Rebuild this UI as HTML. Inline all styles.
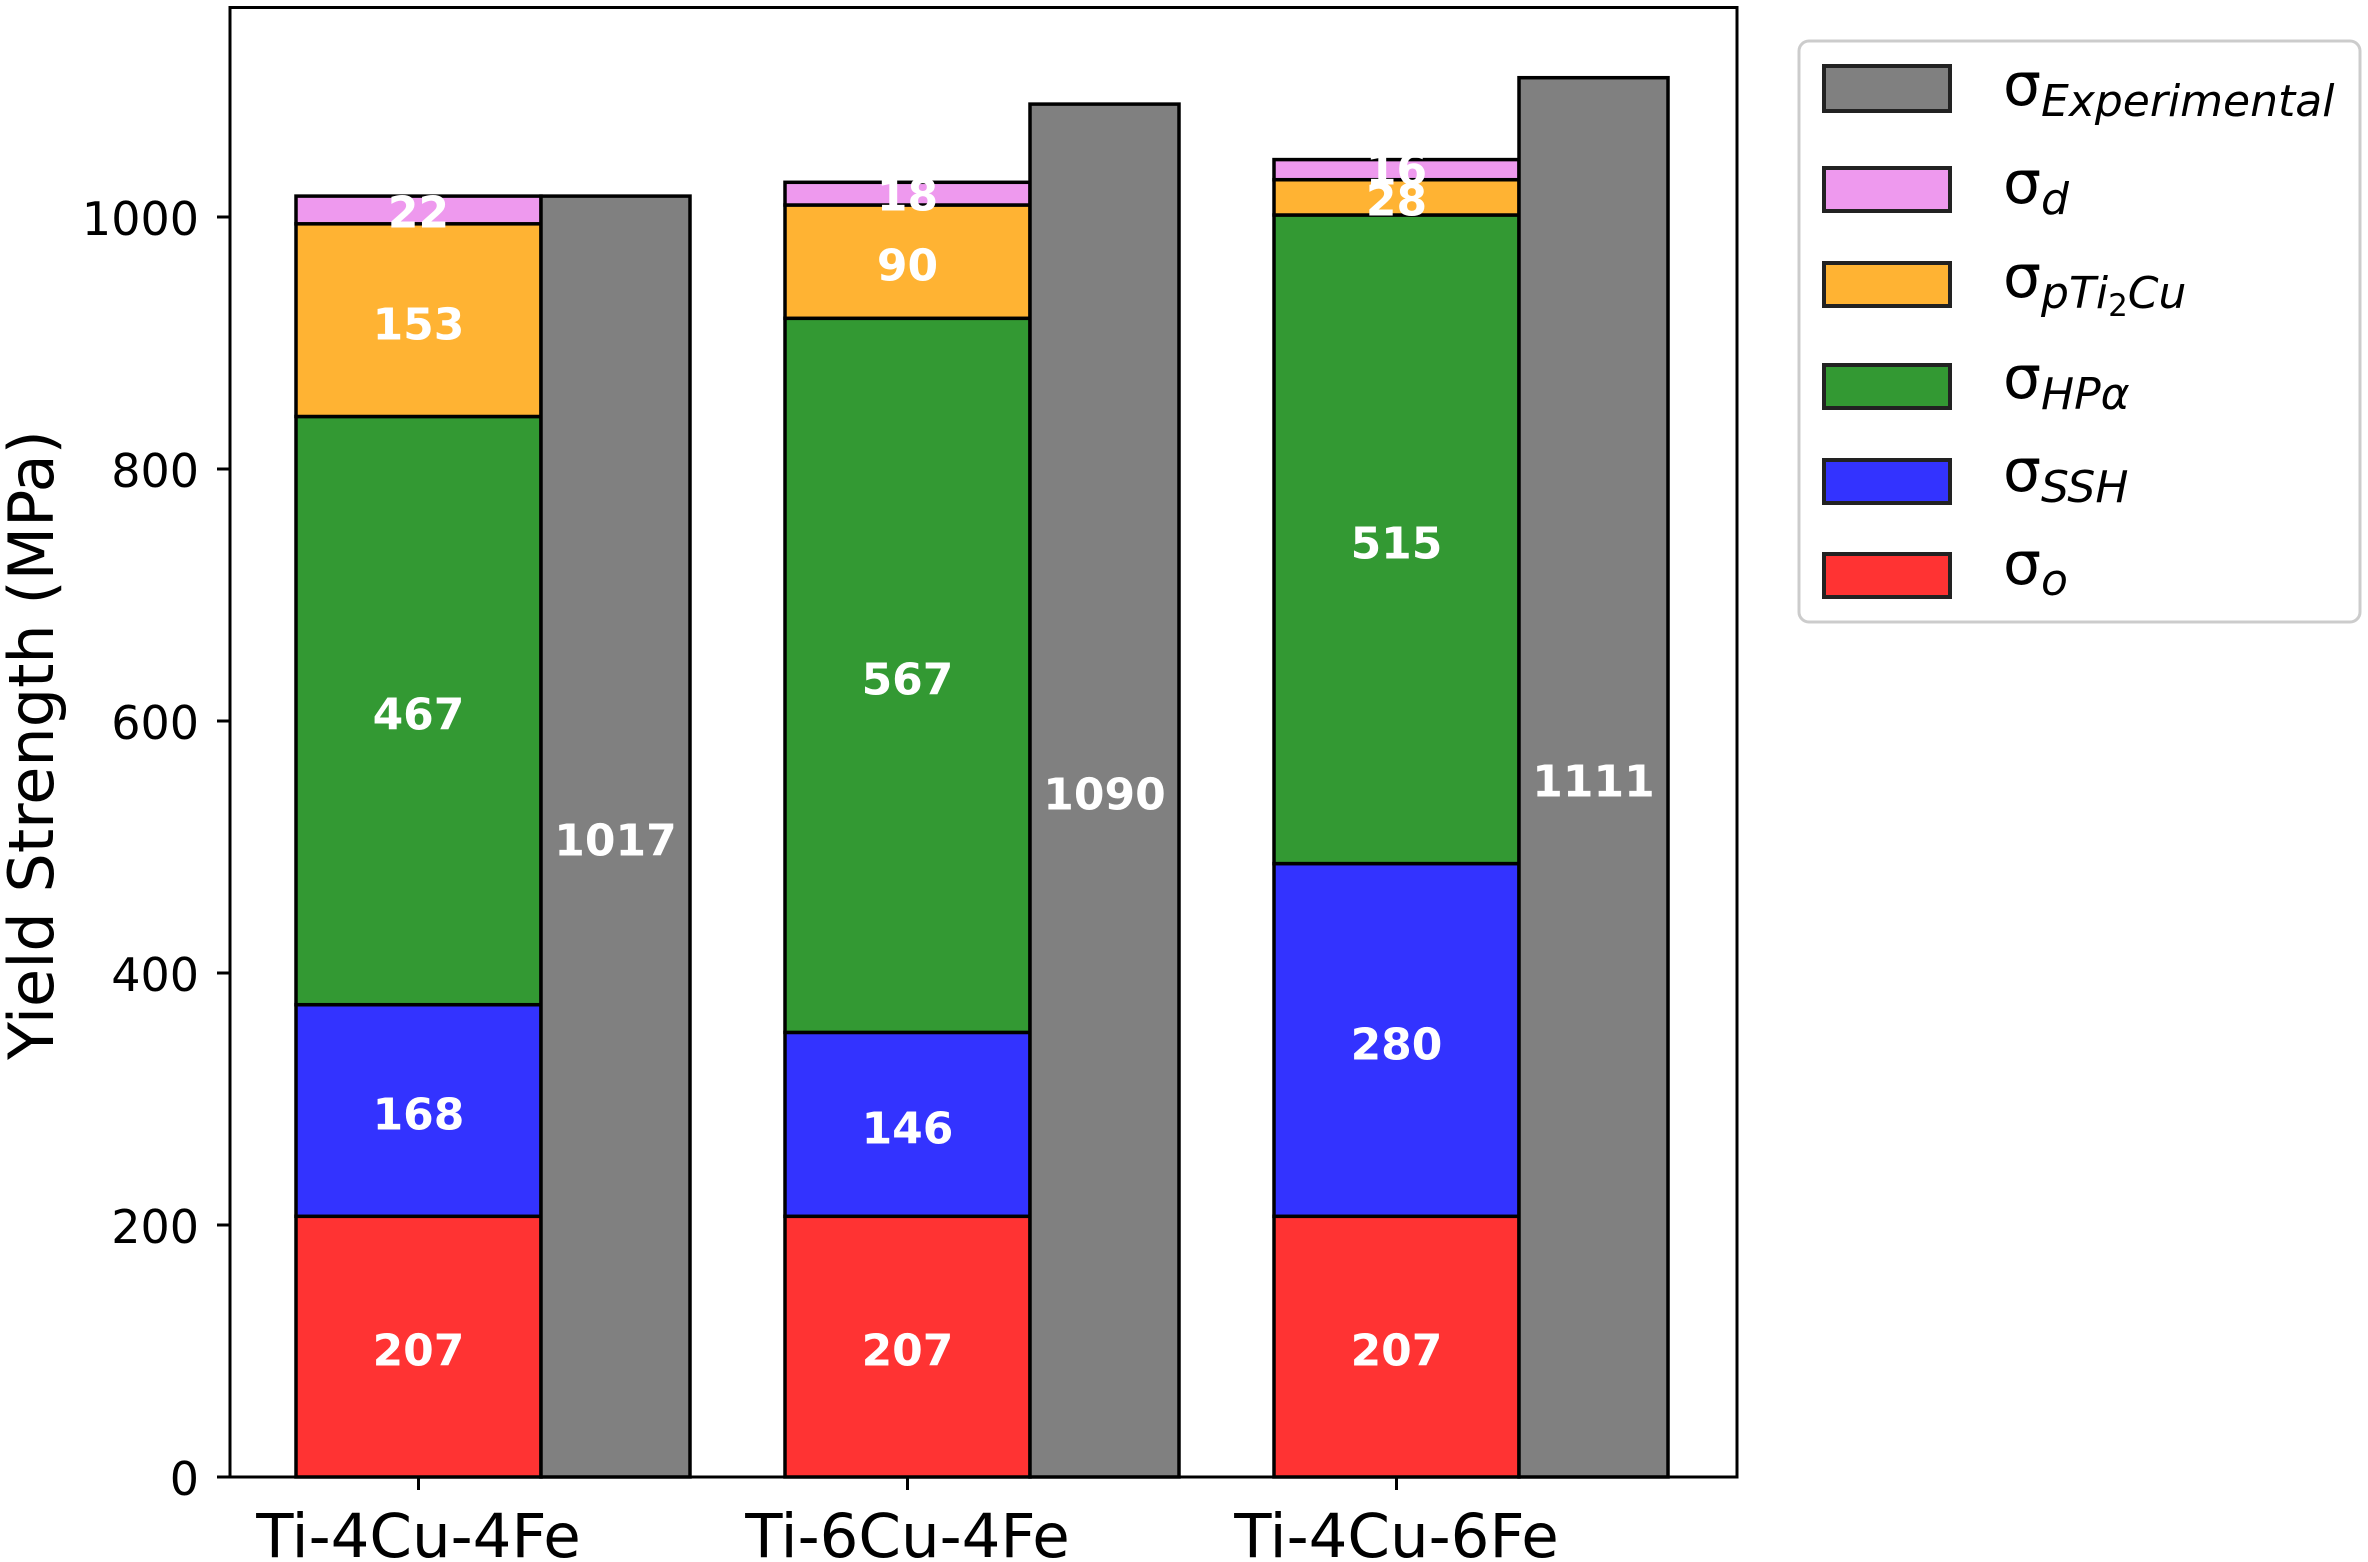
<!DOCTYPE html>
<html><head><meta charset="utf-8"><style>html,body{margin:0;padding:0;background:#fff}svg{display:block}</style></head>
<body>
<svg width="2368" height="1562" viewBox="0 0 2368 1562" xmlns="http://www.w3.org/2000/svg" font-family="'DejaVu Sans','Liberation Sans',sans-serif">
<rect width="2368" height="1562" fill="#fff"/>
<g stroke="#000" stroke-width="3.5">
<rect x="296" y="1216.3" width="245" height="260.7" fill="#ff3333"/>
<rect x="296" y="1004.7" width="245" height="211.6" fill="#3333ff"/>
<rect x="296" y="416.5" width="245" height="588.2" fill="#339933"/>
<rect x="296" y="223.8" width="245" height="192.7" fill="#ffb333"/>
<rect x="296" y="196.1" width="245" height="27.7" fill="#ee99ee"/>
<rect x="541" y="196.1" width="149" height="1280.9" fill="#808080"/>
<rect x="785" y="1216.3" width="245" height="260.7" fill="#ff3333"/>
<rect x="785" y="1032.4" width="245" height="183.9" fill="#3333ff"/>
<rect x="785" y="318.3" width="245" height="714.1" fill="#339933"/>
<rect x="785" y="205" width="245" height="113.3" fill="#ffb333"/>
<rect x="785" y="182.3" width="245" height="22.7" fill="#ee99ee"/>
<rect x="1030" y="104.1" width="149" height="1372.9" fill="#808080"/>
<rect x="1274" y="1216.3" width="245" height="260.7" fill="#ff3333"/>
<rect x="1274" y="863.6" width="245" height="352.7" fill="#3333ff"/>
<rect x="1274" y="215" width="245" height="648.6" fill="#339933"/>
<rect x="1274" y="179.7" width="245" height="35.3" fill="#ffb333"/>
<rect x="1274" y="159.6" width="245" height="20.1" fill="#ee99ee"/>
<rect x="1519" y="77.7" width="149" height="1399.3" fill="#808080"/>
</g>
<g fill="#fff" font-weight="bold" font-size="44" text-anchor="middle" dominant-baseline="central">
<text x="418.5" y="1351">207</text><text x="418.5" y="1115">168</text><text x="418.5" y="715">467</text><text x="418.5" y="325">153</text><text x="418.5" y="213">22</text><text x="615.5" y="841">1017</text>
<text x="907.5" y="1351">207</text><text x="907.5" y="1129">146</text><text x="907.5" y="680">567</text><text x="907.5" y="266">90</text><text x="907.5" y="196">18</text><text x="1104.5" y="795">1090</text>
<text x="1396.5" y="1351">207</text><text x="1396.5" y="1045">280</text><text x="1396.5" y="544">515</text><text x="1396.5" y="201">28</text><text x="1396.5" y="170">16</text><text x="1593.5" y="782">1111</text>
</g>
<rect x="230" y="7.5" width="1507" height="1469.5" fill="none" stroke="#000" stroke-width="3"/>
<g stroke="#000" stroke-width="3">
<line x1="217" y1="1477" x2="230" y2="1477"/><line x1="217" y1="1225" x2="230" y2="1225"/><line x1="217" y1="973" x2="230" y2="973"/><line x1="217" y1="721" x2="230" y2="721"/><line x1="217" y1="469" x2="230" y2="469"/><line x1="217" y1="217" x2="230" y2="217"/>
<line x1="418.5" y1="1477" x2="418.5" y2="1490"/><line x1="907.5" y1="1477" x2="907.5" y2="1490"/><line x1="1396.5" y1="1477" x2="1396.5" y2="1490"/>
</g>
<g font-size="46" text-anchor="end" dominant-baseline="central" fill="#000">
<text x="199" y="1479">0</text><text x="199" y="1227">200</text><text x="199" y="975">400</text><text x="199" y="723">600</text><text x="199" y="471">800</text><text x="199" y="219">1000</text>
</g>
<g font-size="61" text-anchor="middle" fill="#000">
<text x="418.5" y="1557">Ti-4Cu-4Fe</text><text x="907.5" y="1557">Ti-6Cu-4Fe</text><text x="1396.5" y="1557">Ti-4Cu-6Fe</text>
</g>
<text transform="translate(53,745) rotate(-90)" font-size="62" text-anchor="middle" fill="#000">Yield Strength (MPa)</text>
<rect x="1799" y="41" width="561" height="581" rx="10" fill="#fff" stroke="#ccc" stroke-width="3"/>
<g stroke="#222" stroke-width="4">
<rect x="1824" y="66" width="126" height="45" fill="#808080"/>
<rect x="1824" y="168" width="126" height="43" fill="#ee99ee"/>
<rect x="1824" y="263" width="126" height="43" fill="#ffb333"/>
<rect x="1824" y="365" width="126" height="43" fill="#339933"/>
<rect x="1824" y="460" width="126" height="43" fill="#3333ff"/>
<rect x="1824" y="554" width="126" height="43" fill="#ff3333"/>
</g>
<g font-size="60" fill="#000">
<text x="2003" y="105">σ<tspan font-size="44" font-style="italic" dy="11">Experimental</tspan></text>
<text x="2003" y="203">σ<tspan font-size="44" font-style="italic" dy="11">d</tspan></text>
<text x="2003" y="297">σ<tspan font-size="44" font-style="italic" dy="11">pTi</tspan><tspan font-size="31" dy="8">2</tspan><tspan font-size="44" font-style="italic" dy="-8">Cu</tspan></text>
<text x="2003" y="398">σ<tspan font-size="44" font-style="italic" dy="11">HPα</tspan></text>
<text x="2003" y="491">σ<tspan font-size="44" font-style="italic" dy="11">SSH</tspan></text>
<text x="2003" y="584">σ<tspan font-size="44" font-style="italic" dy="11">o</tspan></text>
</g>
</svg>
</body></html>
